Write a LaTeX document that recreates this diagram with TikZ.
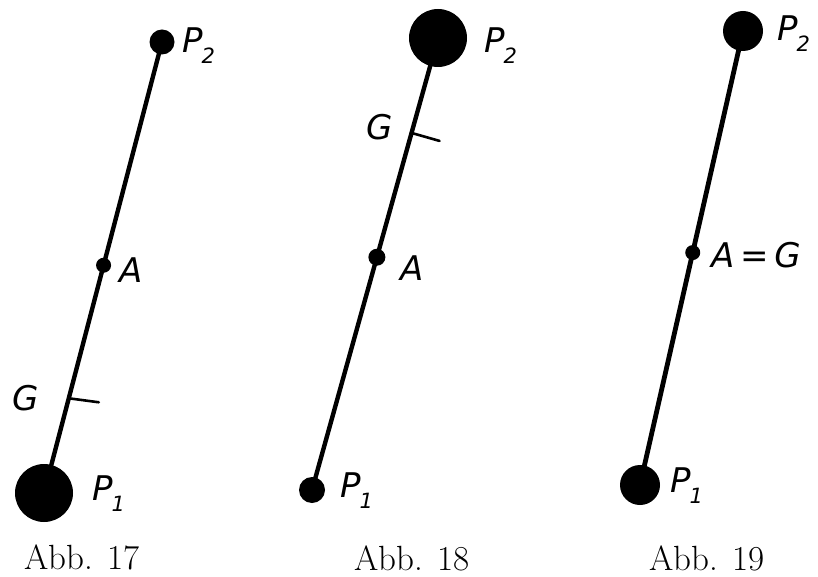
\documentclass[tikz,border=0pt]{standalone}
\usepackage{fontspec}
\newfontfamily\handfont{DejaVu Sans}
\usetikzlibrary{calc}
\newcommand{\Pmark}[1]{P\kern-1pt\raisebox{-0.32em}{\fontsize{21}{21}\selectfont #1}}
\tikzset{
  mass/.style={circle, fill=black, draw=none, inner sep=0pt, minimum size=#1},
  rod/.style={line width=4.4pt, line cap=round},
  tick/.style={line width=2.6pt, line cap=round},
  hand/.style={font=\handfont\itshape\fontsize{34}{34}\selectfont, inner sep=0pt, anchor=west},
  caption/.style={font=\fontsize{35}{35}\selectfont, inner sep=0pt}
}
\begin{document}
\begin{tikzpicture}[x=1pt,y=-1pt]
\useasboundingbox (0,0) rectangle (818,577);
% ---------- Abb. 17 ----------
\node[mass=58pt] (a1) at (44,493) {};
\node[mass=25pt] (a2) at (162,42) {};
\draw[rod] (a1.center) -- (a2.center);
\node[mass=15pt] (aA) at ($(a1.center)!0.505!(a2.center)$) {};
\coordinate (aG) at ($(a1.center)!0.21!(a2.center)$);
\coordinate (aGt) at ($(aG)+(30,4)$);
\draw[tick] (aG) -- (aGt);
\node[hand] (la2) at (182,46) {\Pmark{2}};
\node[hand] (laA) at (119,270) {A};
\node[hand] (laG) at (12,398) {G};
\node[hand] (la1) at (92,494) {\Pmark{1}};
\node[caption] (ca) at (82,557) {Abb. 17};
% ---------- Abb. 18 ----------
\node[mass=26pt] (b1) at (312,490) {};
\node[mass=58pt] (b2) at (438,38) {};
\draw[rod] (b1.center) -- (b2.center);
\node[mass=17pt] (bA) at ($(b1.center)!0.515!(b2.center)$) {};
\coordinate (bG) at ($(b1.center)!0.79!(b2.center)$);
\coordinate (bGt) at ($(bG)+(28,8)$);
\draw[tick] (bG) -- (bGt);
\node[hand] (lb2) at (484,46) {\Pmark{2}};
\node[hand] (lbA) at (400,268) {A};
\node[hand] (lbG) at (366,127) {G};
\node[hand] (lb1) at (340,491) {\Pmark{1}};
\node[caption] (cb) at (412,558) {Abb. 18};
% ---------- Abb. 19 ----------
\node[mass=40pt] (c1) at (640,485) {};
\node[mass=40pt] (c2) at (743,31) {};
\draw[rod, line width=4.8pt] (c1.center) -- (c2.center);
\node[mass=15pt] (cA) at ($(c1.center)!0.512!(c2.center)$) {};
\node[hand] (lc2) at (777,34) {\Pmark{2}};
\node[hand] (lcA) at (711,255) {A\,=\,G};
\node[hand] (lc1) at (670,486) {\Pmark{1}};
\node[caption] (cc) at (707,558) {Abb. 19};
\end{tikzpicture}
\end{document}
